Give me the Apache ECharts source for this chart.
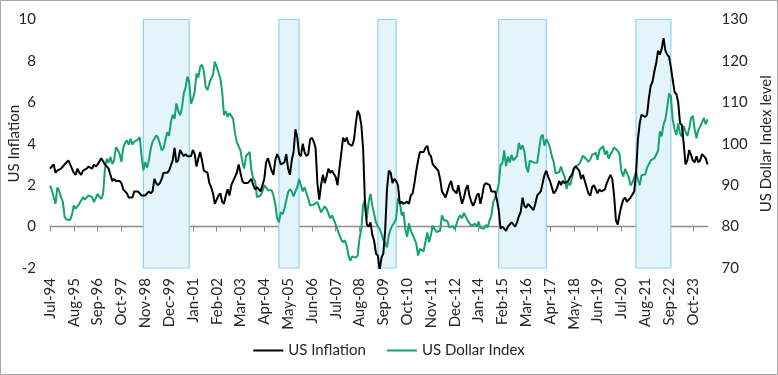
<!DOCTYPE html>
<html>
<head>
<meta charset="utf-8">
<script src="https://cdn.jsdelivr.net/npm/echarts@6/dist/echarts.min.js"></script>
<style>
  html, body { margin: 0; padding: 0; background: #fff; }
  #chart { width: 778px; height: 375px; }
</style>
</head>
<body>
<div id="chart"></div>
<script>
// monthly, Jul-94 .. Jun-24
const inflation = [
  2.8, 2.9, 3.0, 2.6, 2.7, 2.7,
  2.8, 2.9, 2.9, 3.1, 3.2, 3.0, 2.8, 2.6, 2.5, 2.8, 2.6, 2.5,
  2.7, 2.7, 2.8, 2.9, 2.9, 2.8, 3.0, 2.9, 3.0, 3.0, 3.3, 3.3,
  3.0, 3.0, 2.8, 2.5, 2.2, 2.3, 2.2, 2.2, 2.2, 2.1, 1.8, 1.7,
  1.6, 1.4, 1.4, 1.4, 1.7, 1.7, 1.7, 1.6, 1.5, 1.5, 1.5, 1.6,
  1.7, 1.6, 1.7, 2.3, 2.1, 2.0, 2.1, 2.3, 2.6, 2.6, 2.6, 2.7,
  2.7, 3.2, 3.8, 3.1, 3.2, 3.7, 3.7, 3.4, 3.5, 3.4, 3.4, 3.4,
  3.7, 3.5, 2.9, 3.3, 3.6, 3.2, 2.7, 2.7, 2.6, 2.1, 1.9, 1.6,
  1.1, 1.1, 1.5, 1.6, 1.2, 1.1, 1.5, 1.8, 1.5, 2.0, 2.2, 2.4,
  2.6, 3.0, 3.0, 2.2, 2.1, 2.1, 2.1, 2.2, 2.3, 2.0, 1.8, 1.9,
  1.9, 1.7, 1.7, 2.3, 3.1, 3.3, 3.0, 2.7, 2.5, 3.2, 3.5, 3.3,
  3.0, 3.0, 3.1, 3.5, 2.8, 2.5, 3.2, 3.6, 4.7, 4.3, 3.5, 3.4,
  4.0, 3.6, 3.4, 3.5, 4.2, 4.3, 4.1, 3.8, 2.1, 1.3, 2.0, 2.5,
  2.1, 2.4, 2.8, 2.6, 2.7, 2.7, 2.4, 2.0, 2.8, 3.5, 4.3, 4.1,
  4.3, 4.0, 4.0, 3.9, 4.2, 5.0, 5.6, 5.4, 4.9, 3.7, 1.1, 0.1,
  0.0, 0.2, -0.4, -0.7, -1.3, -1.4, -2.1, -1.5, -1.3, -0.2, 1.8, 2.7,
  2.6, 2.1, 2.3, 2.2, 2.0, 1.1, 1.2, 1.1, 1.1, 1.2, 1.1, 1.5,
  1.6, 2.1, 2.7, 3.2, 3.6, 3.6, 3.6, 3.8, 3.9, 3.5, 3.4, 3.0,
  2.9, 2.9, 2.7, 2.3, 1.7, 1.7, 1.4, 1.7, 2.0, 2.2, 1.8, 1.7,
  1.6, 2.0, 1.5, 1.1, 1.4, 1.8, 2.0, 1.5, 1.2, 1.0, 1.2, 1.5,
  1.6, 1.1, 1.5, 2.0, 2.1, 2.1, 2.0, 1.7, 1.7, 1.7, 1.3, 0.8,
  -0.1, 0.0, -0.1, -0.2, 0.0, 0.1, 0.2, 0.2, 0.0, 0.2, 0.5, 0.7,
  1.4, 1.0, 0.9, 1.1, 1.0, 1.0, 0.8, 1.1, 1.5, 1.6, 1.7, 2.1,
  2.5, 2.7, 2.4, 2.2, 1.9, 1.6, 1.7, 1.9, 2.2, 2.0, 2.2, 2.1,
  2.1, 2.2, 2.4, 2.5, 2.8, 2.9, 2.9, 2.7, 2.3, 2.5, 2.2, 1.9,
  1.6, 1.5, 1.9, 2.0, 1.8, 1.6, 1.8, 1.7, 1.7, 1.8, 2.1, 2.3,
  2.5, 2.3, 1.5, 0.3, 0.1, 0.6, 1.0, 1.3, 1.4, 1.2, 1.2, 1.4,
  1.4, 1.7, 2.6, 4.2, 5.0, 5.4, 5.4, 5.3, 5.4, 6.2, 6.8, 7.0,
  7.5, 7.9, 8.5, 8.3, 8.6, 9.1, 8.5, 8.3, 8.2, 7.7, 7.1, 6.5,
  6.4, 6.0, 5.0, 4.9, 4.0, 3.0, 3.2, 3.7, 3.7, 3.2, 3.1, 3.4,
  3.1, 3.2, 3.5, 3.4, 3.3, 3.0
];

const dollarIndex = [
  89.9, 88.8, 88.5, 85.5, 89.4, 88.7,
  87.1, 86.0, 82.3, 81.7, 82.0, 81.6, 82.9, 85.1, 84.3, 84.0, 85.5, 85.3,
  87.1, 86.5, 86.3, 87.5, 87.3, 87.1, 85.9, 86.3, 87.9, 87.2, 86.7, 87.9,
  94.0, 96.4, 95.4, 96.8, 95.1, 96.0, 99.2, 98.5, 97.6, 95.6, 99.0, 100.2,
  100.8, 99.8, 101.2, 99.8, 100.5, 100.7, 101.0, 101.6, 97.0, 93.6, 95.6, 94.2,
  96.0, 98.8, 100.5, 100.2, 102.0, 101.4, 100.0, 98.4, 98.9, 98.6, 102.8, 101.9,
  105.2, 107.0, 106.0, 109.7, 108.0, 106.9, 108.5, 112.1, 113.5, 116.2, 115.0, 109.7,
  110.8, 112.5, 117.0, 116.0, 118.6, 119.1, 117.5, 113.7, 113.0, 114.5, 115.8, 116.6,
  119.8, 118.6, 118.9, 115.8, 112.5, 106.9, 107.9, 106.5, 107.4, 107.0, 106.0, 102.5,
  100.4, 100.8, 98.4, 95.6, 94.0, 97.0, 96.8, 98.0, 93.5, 91.5, 91.0, 87.1,
  87.5, 87.5, 88.5, 90.0, 89.9, 88.8, 89.1, 88.8, 87.5, 85.5, 82.0, 81.0,
  83.5, 83.0, 84.3, 84.2, 88.3, 89.0, 88.5, 87.3, 88.5, 89.5, 91.5, 90.0,
  88.5, 89.5, 89.3, 86.7, 85.1, 85.5, 85.3, 85.2, 85.9, 85.7, 83.4, 83.0,
  84.9, 84.3, 83.2, 82.0, 82.7, 82.3, 80.5, 80.2, 78.0, 76.9, 76.2, 76.7,
  75.4, 73.0, 71.8, 72.8, 72.6, 72.5, 73.0, 77.2, 79.4, 85.3, 86.3, 81.9,
  86.0, 87.9, 85.0, 84.7, 81.0, 80.1, 79.4, 78.3, 76.8, 76.2, 75.0, 77.9,
  79.4, 80.3, 81.0, 81.9, 86.8, 85.9, 82.7, 83.5, 79.4, 77.5, 80.8, 79.0,
  78.0, 77.0, 75.9, 73.0, 74.6, 74.2, 74.0, 73.8, 78.6, 76.2, 78.0, 80.2,
  79.4, 78.7, 79.0, 79.0, 82.7, 81.6, 82.0, 81.3, 79.8, 79.9, 80.1, 79.4,
  79.2, 82.0, 82.7, 82.0, 83.3, 83.0, 81.5, 81.6, 80.2, 80.2, 80.7, 80.0,
  81.2, 79.7, 80.1, 79.5, 80.4, 79.8, 81.5, 82.7, 85.9, 86.9, 88.4, 90.3,
  94.8, 95.3, 98.4, 94.6, 96.9, 95.5, 97.3, 96.0, 96.3, 97.0, 100.2, 98.6,
  99.6, 98.2, 94.6, 93.1, 95.9, 96.1, 95.5, 95.9, 95.4, 98.4, 101.5, 102.2,
  99.5, 101.1, 100.3, 99.0, 97.0, 95.6, 92.9, 92.7, 93.1, 94.5, 93.0, 92.1,
  89.1, 90.6, 90.0, 91.8, 94.0, 94.5, 94.5, 95.1, 94.8, 97.1, 97.3, 96.2,
  95.6, 96.2, 97.3, 97.5, 97.8, 96.1, 98.5, 98.9, 99.4, 97.4, 98.3, 96.4,
  97.4, 98.1, 99.1, 99.0, 98.3, 97.4, 93.3, 92.1, 93.9, 94.0, 91.9, 89.9,
  90.6, 90.9, 93.2, 91.3, 90.0, 92.4, 92.2, 92.6, 94.2, 94.1, 96.0, 95.7,
  96.5, 96.7, 98.3, 103.0, 101.8, 104.7, 105.9, 108.7, 112.1, 111.5, 105.9, 103.5,
  102.1, 104.9, 102.5, 101.7, 104.3, 102.9, 101.9, 103.6, 106.2, 106.7, 103.5, 101.3,
  103.3, 104.2, 104.5, 106.2, 104.7, 105.9
];

// shaded periods (start, end)
const shadeStart = ['Oct-98', 'Dec-04', 'Jun-09', 'Dec-14', 'Mar-21'];
const shadeEnd = ['Nov-00', 'Nov-05', 'Apr-10', 'Feb-17', 'Oct-22'];

const monthNames = ['Jan', 'Feb', 'Mar', 'Apr', 'May', 'Jun', 'Jul', 'Aug', 'Sep', 'Oct', 'Nov', 'Dec'];
const categories = [];
for (let i = 0; i < inflation.length; i++) {
  const k = 6 + i;
  const yr = (94 + Math.floor(k / 12)) % 100;
  categories.push(monthNames[k % 12] + '-' + String(yr).padStart(2, '0'));
}

const font = 'Lato, "Open Sans", sans-serif';
const textColor = '#262626';

const chart = echarts.init(document.getElementById('chart'));
chart.setOption({
  animation: false,
  textStyle: { fontFamily: font },
  graphic: [{
    type: 'rect',
    shape: { x: 0.5, y: 0.5, width: 777, height: 374 },
    style: { fill: 'none', stroke: '#a6a6a6', lineWidth: 1 },
    silent: true
  }],
  grid: { left: 50, right: 70.5, top: 19.5, bottom: 107, containLabel: false, outerBoundsMode: 'none' },
  legend: {
    bottom: 12,
    left: 'center',
    icon: 'rect',
    itemWidth: 30,
    itemHeight: 2,
    itemGap: 21,
    textStyle: { fontFamily: font, fontSize: 15, color: textColor },
    data: ['US Inflation', 'US Dollar Index']
  },
  xAxis: [{
    type: 'category',
    data: categories,
    boundaryGap: false,
    position: 'bottom',
    axisLine: { onZero: true, onZeroAxisIndex: 0, lineStyle: { color: '#8c8c8c', width: 1.3 } },
    axisTick: { show: true, interval: 12, length: 5, lineStyle: { color: '#8c8c8c' } },
    axisLabel: { show: false },
    splitLine: { show: false }
  }, {
    type: 'category',
    data: categories,
    boundaryGap: false,
    position: 'bottom',
    axisLine: { show: false, onZero: false },
    axisTick: { show: false },
    axisLabel: {
      interval: 12, rotate: 90, margin: 10,
      fontFamily: font, fontSize: 15, color: textColor
    },
    splitLine: { show: false }
  }],
  yAxis: [{
    type: 'value',
    min: -2, max: 10, interval: 2,
    name: 'US Inflation',
    nameLocation: 'middle',
    nameRotate: 90,
    nameGap: 28,
    nameMoveOverlap: false,
    nameTextStyle: { fontFamily: font, fontSize: 15, color: textColor },
    axisLine: { show: false },
    axisTick: { show: false },
    splitLine: { show: false },
    axisLabel: { margin: 14, fontFamily: font, fontSize: 15, color: textColor }
  }, {
    type: 'value',
    min: 70, max: 130, interval: 10,
    name: 'US Dollar Index level',
    nameLocation: 'middle',
    nameRotate: 90,
    nameGap: 51,
    nameMoveOverlap: false,
    nameTextStyle: { fontFamily: font, fontSize: 15, color: textColor },
    axisLine: { show: false },
    axisTick: { show: false },
    splitLine: { show: false },
    axisLabel: { margin: 14, fontFamily: font, fontSize: 15, color: textColor }
  }],
  series: [{
    name: 'US Inflation',
    type: 'line',
    xAxisIndex: 0,
    yAxisIndex: 0,
    data: inflation,
    showSymbol: false,
    symbol: 'none',
    color: '#000000',
    lineStyle: { width: 2, color: '#000000' },
    z: 3,
    markArea: {
      silent: true,
      itemStyle: { color: '#e4f4fc', borderColor: '#8dd2f1', borderWidth: 1.2 },
      data: shadeStart.map((s, i) => [{ xAxis: s }, { xAxis: shadeEnd[i] }])
    }
  }, {
    name: 'US Dollar Index',
    type: 'line',
    xAxisIndex: 0,
    yAxisIndex: 1,
    data: dollarIndex,
    showSymbol: false,
    symbol: 'none',
    color: '#12a36e',
    lineStyle: { width: 2, color: '#12a36e' },
    z: 2
  }]
});
</script>
</body>
</html>
